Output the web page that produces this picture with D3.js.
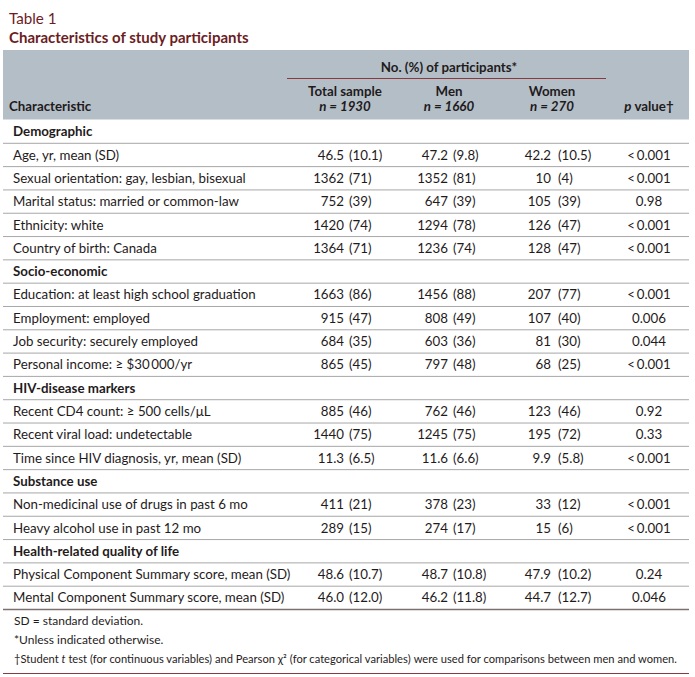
<!DOCTYPE html>
<html><head><meta charset="utf-8">
<script src="https://cdn.jsdelivr.net/npm/d3@7"></script>
<style>
html,body{margin:0;padding:0;background:#fff;}
svg text{font-family:Lato,"Noto Sans",sans-serif;fill:#1f1b1c;}
</style></head>
<body><svg id="chart" width="695" height="677"></svg>
<script>
const titleText = "Table 1";
const subtitleText = "Characteristics of study participants";
const spanHeader = "No. (%) of participants*";
const groupNames = ["Total sample", "Men", "Women"];
const groupN = ["n = 1930", "n = 1660", "n = 270"];
const sections = ["Demographic", "Socio-economic", "HIV-disease markers", "Substance use", "Health-related quality of life"];
const labels = [
  "Age, yr, mean (SD)",
  "Sexual orientation: gay, lesbian, bisexual",
  "Marital status: married or common-law",
  "Ethnicity: white",
  "Country of birth: Canada",
  "Education: at least high school graduation",
  "Employment: employed",
  "Job security: securely employed",
  "Personal income: \u2265 $30\u2009000/yr",
  "Recent CD4 count: \u2265 500 cells/\u03bcL",
  "Recent viral load: undetectable",
  "Time since HIV diagnosis, yr, mean (SD)",
  "Non-medicinal use of drugs in past 6 mo",
  "Heavy alcohol use in past 12 mo",
  "Physical Component Summary score, mean (SD)",
  "Mental Component Summary score, mean (SD)"
];
const sectionOf = [0,0,0,0,0,1,1,1,1,2,2,2,3,3,4,4];
const totalN   = ["46.5","1362","752","1420","1364","1663","915","684","865","885","1440","11.3","411","289","48.6","46.0"];
const totalPct = ["10.1","71","39","74","71","86","47","35","45","46","75","6.5","21","15","10.7","12.0"];
const menN     = ["47.2","1352","647","1294","1236","1456","808","603","797","762","1245","11.6","378","274","48.7","46.2"];
const menPct   = ["9.8","81","39","78","74","88","49","36","48","46","75","6.6","23","17","10.8","11.8"];
const womenN   = ["42.2","10","105","126","128","207","107","81","68","123","195","9.9","33","15","47.9","44.7"];
const womenPct = ["10.5","4","39","47","47","77","40","30","25","46","72","5.8","12","6","10.2","12.7"];
const pValues  = ["<0.001","<0.001","0.98","<0.001","<0.001","<0.001","0.006","0.044","<0.001","0.92","0.33","<0.001","<0.001","<0.001","0.24","0.046"];
const footnotes = ["SD = standard deviation.", "*Unless indicated otherwise."];

// build rows
const rows = [];
sections.forEach((s, si) => {
  rows.push({type: "section", label: s});
  labels.forEach((l, i) => {
    if (sectionOf[i] === si) rows.push({type: "data", i, label: l});
  });
});

const svg = d3.select("#chart");
const left = 3, right = 689;
const titleColor = "#6b1d1f";
const fs = 13.3;

const y = d3.scaleBand().domain(d3.range(rows.length)).range([120, 609.5]);
const colKeys = ["total", "men", "women", "p"];
const x = d3.scaleOrdinal().domain(colKeys).range([345, 449, 552, 649]);

// title
svg.append("text").attr("x", 9).attr("y", 24).style("font-size", "15.2px").style("fill", titleColor).text(titleText);
svg.append("text").attr("x", 9).attr("y", 43).style("font-size", "15px").style("font-weight", "bold").style("fill", titleColor).text(subtitleText);

// header band
svg.append("rect").attr("x", left).attr("y", 50).attr("width", right - left).attr("height", 69.5).attr("fill", "#b4bec7");

svg.append("text").attr("x", x("men")).attr("y", 72).attr("text-anchor", "middle")
  .style("font-size", fs + "px").style("font-weight", "bold").text(spanHeader);
svg.append("line").attr("x1", 287).attr("x2", 606).attr("y1", 78.5).attr("y2", 78.5)
  .attr("stroke", "#8a3a3e").attr("stroke-width", 1.2);

const gcols = ["total", "men", "women"];
gcols.forEach((k, j) => {
  svg.append("text").attr("x", x(k)).attr("y", 96).attr("text-anchor", "middle")
    .style("font-size", fs + "px").style("font-weight", "bold").text(groupNames[j]);
  svg.append("text").attr("x", x(k)).attr("y", 111).attr("text-anchor", "middle")
    .style("font-size", fs + "px").style("font-weight", "bold").style("font-style", "italic")
    .text(groupN[j]);
});
svg.append("text").attr("x", 9).attr("y", 111).style("font-size", fs + "px").style("font-weight", "bold").text("Characteristic");
const pv = svg.append("text").attr("x", x("p")).attr("y", 111).attr("text-anchor", "middle")
  .style("font-size", fs + "px").style("font-weight", "bold");
pv.append("tspan").style("font-style", "italic").text("p");
pv.append("tspan").text(" value\u2020");

// rows
const g = svg.append("g");
const rowG = g.selectAll("g.row").data(rows).join("g").attr("class", "row")
  .attr("transform", (d, k) => `translate(0,${y(k) + y.bandwidth() / 2})`);

rowG.append("line").attr("x1", left).attr("x2", right)
  .attr("y1", y.bandwidth() / 2).attr("y2", y.bandwidth() / 2)
  .attr("stroke", (d, k) => k === rows.length - 1 ? "#7d6f70" : "#a7a7a7")
  .attr("stroke-width", (d, k) => k === rows.length - 1 ? 1.3 : 1);

rowG.append("text").attr("x", 13).attr("y", 4.6)
  .style("font-size", fs + "px")
  .style("font-weight", d => d.type === "section" ? "bold" : "normal")
  .text(d => d.label);

const dataRows = rowG.filter(d => d.type === "data");
const pairs = [["total", totalN, totalPct], ["men", menN, menPct], ["women", womenN, womenPct]];
pairs.forEach(([k, nArr, pArr]) => {
  dataRows.append("text").attr("x", x(k) - 1).attr("y", 4.6).attr("text-anchor", "end")
    .style("font-size", fs + "px").text(d => nArr[d.i]);
  dataRows.append("text").attr("x", x(k) + (k === "women" ? 6 : 4)).attr("y", 4.6)
    .style("font-size", fs + "px").text(d => "(" + pArr[d.i] + ")");
});
dataRows.append("text").attr("x", x("p")).attr("y", 4.6).attr("text-anchor", "middle")
  .style("font-size", fs + "px").text(d => pValues[d.i].replace("<", "<\u2009"));

// footnotes
const fy = [625, 644];
footnotes.forEach((f, j) => {
  svg.append("text").attr("x", 14).attr("y", fy[j]).style("font-size", "12px").text(f);
});
const last = svg.append("text").attr("x", 14).attr("y", 663).style("font-size", "11.5px");
last.append("tspan").text("\u2020Student ");
last.append("tspan").style("font-style", "italic").text("t");
last.append("tspan").text(" test (for continuous variables) and Pearson \u03c7\u00b2 (for categorical variables) were used for comparisons between men and women.");
// fit the long footnote into the table width by font size
const natural = last.node().getComputedTextLength();
last.style("font-size", (11.5 * 664 / natural) + "px");

svg.append("line").attr("x1", left).attr("x2", right).attr("y1", 673.5).attr("y2", 673.5)
  .attr("stroke", "#8a3a3e").attr("stroke-width", 1.2);
</script>
</body></html>
